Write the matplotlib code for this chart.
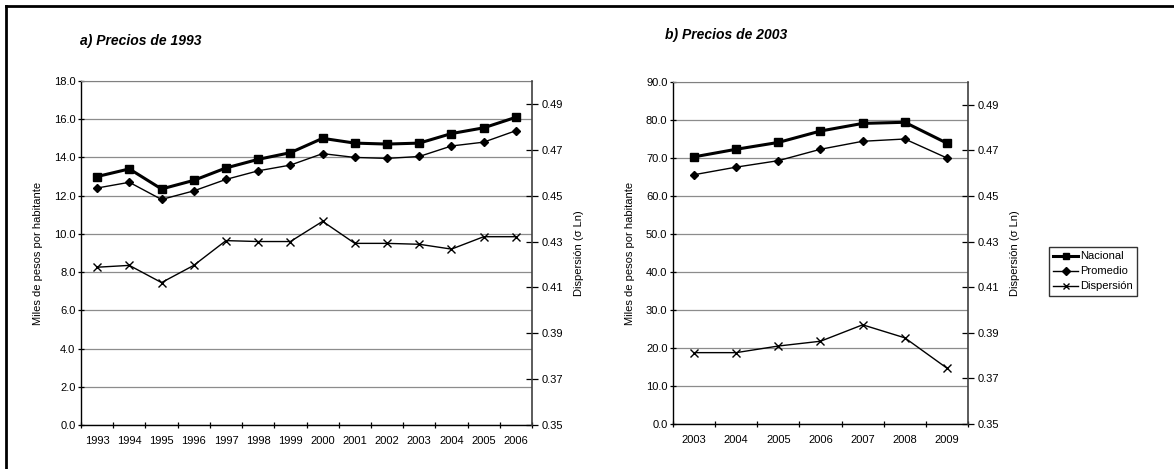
import matplotlib
matplotlib.use("Agg")
import matplotlib.pyplot as plt
import numpy as np
from matplotlib.lines import Line2D

plt.rcParams['font.family'] = ['Liberation Sans', 'DejaVu Sans']

years_a = ['1993', '1994', '1995', '1996', '1997', '1998', '1999', '2000',
           '2001', '2002', '2003', '2004', '2005', '2006']
nacional_a = [13.0, 13.4, 12.35, 12.8, 13.45, 13.9, 14.25, 15.0, 14.75, 14.7, 14.75, 15.25, 15.55, 16.1]
promedio_a = [12.4, 12.7, 11.8, 12.25, 12.85, 13.3, 13.6, 14.2, 14.0, 13.95, 14.05, 14.6, 14.8, 15.4]
dispersion_a = [0.4188, 0.4196, 0.4121, 0.4196, 0.4304, 0.4300, 0.4300, 0.4388,
                0.4292, 0.4292, 0.4288, 0.4267, 0.4321, 0.4321]

years_b = ['2003', '2004', '2005', '2006', '2007', '2008', '2009']
nacional_b = [70.3, 72.3, 74.1, 77.1, 79.1, 79.4, 73.9]
promedio_b = [65.6, 67.6, 69.3, 72.3, 74.4, 75.0, 70.0]
dispersion_b = [0.3813, 0.3813, 0.3842, 0.3863, 0.3935, 0.3878, 0.3745]

right_ticks = [0.35, 0.37, 0.39, 0.41, 0.43, 0.45, 0.47, 0.49]

W, H = 1174, 469
fig = plt.figure(figsize=(W / 100, H / 100), dpi=100)

def ax_rect(x0, y0, x1, y1):
    return [x0 / W, 1 - y1 / H, (x1 - x0) / W, (y1 - y0) / H]

def panel(rect, years, nac, prom, disp, ymax, ystep, title, title_xy):
    ax = fig.add_axes(rect)
    n = len(years)
    x = np.arange(n)
    ax.set_xlim(-0.5, n - 0.5)
    ax.set_ylim(0, ymax)
    yt = np.arange(0, ymax + 0.001, ystep)
    ax.set_yticks(yt)
    ax.set_yticklabels([f"{v:.1f}" for v in yt], fontsize=8)
    ax.yaxis.grid(True, color='#8c8c8c', linewidth=0.9)
    ax.set_axisbelow(True)
    ax.set_xticks(x)
    ax.set_xticklabels(years, fontsize=8)
    ax.set_xticks(np.arange(-0.5, n, 1.0), minor=True)
    ax.tick_params(axis='x', which='major', length=0, pad=8)
    ax.tick_params(axis='x', which='minor', length=4, direction='inout', width=0.9)
    ax.tick_params(axis='y', length=4, direction='inout', width=0.9, pad=2)
    for s in ['left', 'bottom']:
        ax.spines[s].set_color('black')
        ax.spines[s].set_linewidth(1.0)
    ax.spines['top'].set_color('#808080')
    ax.spines['right'].set_visible(False)
    ax.set_ylabel('Miles de pesos por habitante', fontsize=8, labelpad=8)

    ax.plot(x, nac, color='black', linewidth=2.2, marker='s', markersize=5.5,
            label='Nacional', zorder=3)
    ax.plot(x, prom, color='black', linewidth=1.0, marker='D', markersize=4.5,
            label='Promedio', zorder=3)

    ax2 = ax.twinx()
    ax2.set_ylim(0.35, 0.50)
    ax2.set_yticks(right_ticks)
    ax2.set_yticklabels([f"{v:.2f}" for v in right_ticks], fontsize=8)
    ax2.tick_params(axis='y', length=8, direction='inout', width=0.9, pad=3)
    for s in ['left', 'top', 'bottom']:
        ax2.spines[s].set_visible(False)
    ax2.spines['right'].set_color('#404040')
    ax2.spines['right'].set_linewidth(1.2)
    ax2.plot(x, disp, color='black', linewidth=1.0, marker='x', markersize=6,
             markeredgewidth=1.0, label='Dispersión', zorder=3)
    ax2.set_ylabel('Dispersión (σ Ln)', fontsize=8, labelpad=8)

    fig.text(title_xy[0] / W, 1 - title_xy[1] / H, title, fontsize=10,
             fontweight='bold', fontstyle='italic', va='center', ha='left')
    return ax, ax2

panel(ax_rect(81, 81, 532, 425), years_a, nacional_a, promedio_a, dispersion_a,
      18.0, 2.0, 'a) Precios de 1993', (80, 41))
panel(ax_rect(673, 82, 968, 424), years_b, nacional_b, promedio_b, dispersion_b,
      90.0, 10.0, 'b) Precios de 2003', (665, 35))

handles = [
    Line2D([], [], color='black', linewidth=2.2, marker='s', markersize=5),
    Line2D([], [], color='black', linewidth=1.0, marker='D', markersize=4),
    Line2D([], [], color='black', linewidth=1.0, marker='x', markersize=5),
]
leg = fig.legend(handles, ['Nacional', 'Promedio', 'Dispersión'],
                 loc='upper left', bbox_to_anchor=(1049 / W, 1 - 247 / H),
                 fontsize=8, frameon=True, fancybox=False, edgecolor='black',
                 handlelength=2.2, handletextpad=0.2, borderpad=0.4,
                 labelspacing=0.45, borderaxespad=0)
leg.get_frame().set_linewidth(1.0)

# outer frame (left and top edges visible)
fig.add_artist(Line2D([6 / W, 6 / W], [0, 1 - 6 / H], transform=fig.transFigure,
                      color='black', linewidth=2))
fig.add_artist(Line2D([6 / W, 1], [1 - 6 / H, 1 - 6 / H], transform=fig.transFigure,
                      color='black', linewidth=2))

fig.savefig('out.png', dpi=100)
